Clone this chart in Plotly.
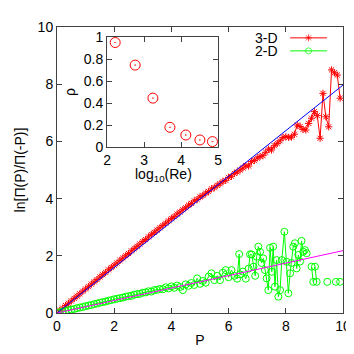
import plotly.graph_objects as go

# 3-D series
p_3d = [0.0, 0.1, 0.2, 0.3, 0.4, 0.5, 0.6, 0.7, 0.8, 0.9,
        1.0, 1.1, 1.2, 1.3, 1.4, 1.5, 1.6, 1.7, 1.8, 1.9,
        2.0, 2.1, 2.2, 2.3, 2.4, 2.5, 2.6, 2.7, 2.8, 2.9,
        3.0, 3.1, 3.2, 3.3, 3.4, 3.5, 3.6, 3.7, 3.8, 3.9,
        4.0, 4.1, 4.2, 4.3, 4.4, 4.5, 4.6, 4.7, 4.8, 4.9,
        5.0, 5.1, 5.2, 5.3, 5.4, 5.5, 5.6, 5.7, 5.8, 5.9,
        6.0, 6.1, 6.2, 6.3, 6.4, 6.5, 6.6, 6.7, 6.8, 6.9,
        7.0, 7.1, 7.2, 7.3, 7.4, 7.5, 7.6, 7.7, 7.8, 7.9,
        8.0, 8.1, 8.2, 8.3, 8.4, 8.5, 8.6, 8.7, 8.8, 8.9,
        9.0, 9.1, 9.2, 9.3, 9.4, 9.5, 9.6, 9.7, 9.8, 9.9]
ln_3d = [0.00, 0.09, 0.17, 0.26, 0.34, 0.42, 0.51, 0.59, 0.67, 0.76,
         0.84, 0.92, 1.01, 1.09, 1.17, 1.26, 1.34, 1.42, 1.51, 1.59,
         1.67, 1.75, 1.84, 1.92, 2.00, 2.08, 2.17, 2.25, 2.33, 2.41,
         2.50, 2.57, 2.66, 2.74, 2.82, 2.90, 2.98, 3.06, 3.14, 3.22,
         3.30, 3.37, 3.46, 3.53, 3.61, 3.68, 3.77, 3.83, 3.92, 3.97,
         4.06, 4.11, 4.19, 4.25, 4.34, 4.38, 4.46, 4.52, 4.60, 4.64,
         4.74, 4.78, 4.88, 4.93, 5.00, 5.07, 5.15, 5.14, 5.30, 5.33,
         5.42, 5.47, 5.50, 5.62, 5.73, 5.70, 5.85, 5.93, 6.02, 6.14,
         6.16, 6.14, 6.15, 6.25, 6.57, 6.52, 6.42, 6.40, 6.63, 6.81,
         7.04, 6.90, 6.11, 7.68, 6.86, 6.51, 8.50, 8.40, 8.32, 7.51]

# 2-D series (None = gap)
p_2d = [0.0, 0.1, 0.2, 0.3, 0.4, 0.5, 0.6, 0.7, 0.8, 0.9,
        1.0, 1.1, 1.2, 1.3, 1.4, 1.5, 1.6, 1.7, 1.8, 1.9,
        2.0, 2.1, 2.2, 2.3, 2.4, 2.5, 2.6, 2.7, 2.8, 2.9,
        3.0, 3.1, 3.2, 3.3, 3.4, 3.5, 3.6, 3.7, 3.8, 3.9,
        4.0, 4.1, 4.2, 4.3, 4.4, 4.5, 4.6, 4.7, 4.8, 4.9,
        5.0, 5.1, 5.2, 5.3, 5.4, 5.5, 5.6, 5.7, 5.8, 5.9,
        6.0, 6.1, 6.2, 6.3, 6.37, 6.4, 6.5, 6.6, 6.7, 6.75,
        6.81, 6.87, 6.93, 6.98, 7.04, 7.10, 7.15, 7.21, 7.27, 7.33,
        7.39, 7.45, 7.51, 7.56, 7.62, 7.68, 7.74, 7.80, 7.86, 7.95,
        8.03, 8.09, 8.15, 8.20, 8.26, 8.32, 8.38, 8.44, 8.50, 8.55,
        8.61, 8.67, 8.73, 8.80, 8.90, 8.96, 9.0, 9.02, 9.08, 9.2,
        9.45, 9.6, 9.75, 9.82, 9.9]
ln_2d = [0.00, 0.03, 0.05, 0.07, 0.10, 0.12, 0.14, 0.17, 0.19, 0.21,
         0.24, 0.26, 0.28, 0.31, 0.33, 0.36, 0.38, 0.40, 0.43, 0.45,
         0.48, 0.50, 0.52, 0.54, 0.57, 0.59, 0.60, 0.64, 0.66, 0.67,
         0.71, 0.72, 0.76, 0.75, 0.80, 0.81, 0.84, 0.83, 0.90, 0.86,
         0.93, 0.88, 0.96, 0.91, 0.80, 1.00, 0.95, 1.05, 0.98, 1.21,
         1.02, 1.12, 1.06, 1.27, 1.39, 1.15, 1.30, 1.15, 1.41, 1.50,
         1.25, 1.50, 1.30, 1.20, 2.06, 1.35, 1.45, 1.20, 1.55, 2.05,
         2.05, 1.62, 1.30, 1.97, 2.32, 2.14, 1.75, 1.91, 1.50, 1.21,
         0.80, 2.28, 1.44, 2.32, 0.92, 1.85, 0.57, 0.80, 1.85, 2.84,
         1.79, 0.69, 1.39, 1.75, 2.32, 2.44, 1.56, 2.03, 1.80, 2.52,
         2.14, 2.20, 2.09, None, 1.62, 1.09, None, 1.62, 1.09, None,
         1.09, None, 1.09, None, 1.09]

# linear fits
fit_p = [0, 10]
fit_3d = [0, 7.97]
fit_2d = [0, 2.18]

# inset: rho vs log10(Re)
log_re = [2.22, 2.76, 3.24, 3.70, 4.13, 4.51, 4.85]
rho = [0.95, 0.745, 0.445, 0.18, 0.11, 0.065, 0.05]

RED = "#ff0000"
GREEN = "#00ff00"
FONT = "Liberation Sans, Arial, sans-serif"
AX = "#404040"

fig = go.Figure()

fig.add_trace(go.Scatter(
    x=p_3d, y=ln_3d, mode="lines+markers",
    line=dict(color=RED, width=1),
    marker=dict(symbol="asterisk-open", size=6, color=RED, line=dict(color=RED, width=1)),
    showlegend=False,
))
fig.add_trace(go.Scatter(
    x=p_2d, y=ln_2d, mode="lines+markers", connectgaps=False,
    line=dict(color=GREEN, width=1),
    marker=dict(symbol="circle-open", size=7, color=GREEN, line=dict(color=GREEN, width=1)),
    showlegend=False,
))
fig.add_trace(go.Scatter(x=fit_p, y=fit_3d, mode="lines",
                         line=dict(color="#0000ff", width=1), showlegend=False))
fig.add_trace(go.Scatter(x=fit_p, y=fit_2d, mode="lines",
                         line=dict(color="#ff00ff", width=1), showlegend=False))

# inset
fig.add_trace(go.Scatter(
    x=log_re, y=rho, mode="markers", xaxis="x2", yaxis="y2",
    marker=dict(symbol="circle-open-dot", size=10, color=RED, line=dict(color=RED, width=1)),
    showlegend=False,
))

# legend keys (gnuplot style: text left of sample)
fig.add_trace(go.Scatter(
    x=[0, 0.5, 1], y=[0.77, 0.77, 0.77], mode="lines+markers", xaxis="x3", yaxis="y3",
    line=dict(color=RED, width=1),
    marker=dict(symbol="asterisk-open", size=[0, 6, 0], color=RED, line=dict(color=RED, width=1)),
    showlegend=False, hoverinfo="skip",
))
fig.add_trace(go.Scatter(
    x=[0, 0.5, 1], y=[0.27, 0.27, 0.27], mode="lines+markers", xaxis="x3", yaxis="y3",
    line=dict(color=GREEN, width=1),
    marker=dict(symbol="circle-open", size=[0, 6, 0], color=GREEN, line=dict(color=GREEN, width=1)),
    showlegend=False, hoverinfo="skip",
))

axis_common = dict(
    showline=True, linecolor=AX, linewidth=1, mirror="ticks",
    ticks="inside", ticklen=5, tickcolor=AX,
    showgrid=False, zeroline=False, automargin=False,
    tickfont=dict(family=FONT, size=14, color="black"),
)

# page body adds an 8px offset, so the figure is 346px with adjusted margins
fig.update_layout(
    width=346, height=346,
    margin=dict(l=49, r=11, t=19, b=41),
    paper_bgcolor="white", plot_bgcolor="white",
    font=dict(family=FONT, size=14, color="black"),
    xaxis=dict(range=[0, 10], dtick=2, domain=[0, 1],
               title=dict(text="P", standoff=2, font=dict(size=14)), **axis_common),
    yaxis=dict(range=[0, 10], dtick=2, domain=[0, 1],
               title=dict(text="ln[Π(P)/Π(-P)]", standoff=8, font=dict(size=14)), **axis_common),
    xaxis2=dict(range=[2, 5], dtick=1, domain=[0.175, 0.563], anchor="y2", **axis_common),
    yaxis2=dict(range=[0, 1], dtick=0.2, domain=[0.580, 0.965], anchor="x2",
                title=dict(text="ρ", standoff=4, font=dict(size=14)), **axis_common),
    xaxis3=dict(range=[0, 1], domain=[0.815, 0.944], anchor="y3", visible=False),
    yaxis3=dict(range=[0, 1], domain=[0.892, 0.983], anchor="x3", visible=False),
    annotations=[
        dict(text="log<sub>10</sub>(Re)", x=0.371, y=0.482, xref="paper", yref="paper",
             xanchor="center", yanchor="middle", showarrow=False, font=dict(size=14)),
        dict(text="3-D", x=0.780, y=0.962, xref="paper", yref="paper",
             xanchor="right", yanchor="middle", showarrow=False, font=dict(size=14)),
        dict(text="2-D", x=0.780, y=0.916, xref="paper", yref="paper",
             xanchor="right", yanchor="middle", showarrow=False, font=dict(size=14)),
    ],
)

fig.write_html("out.html")
